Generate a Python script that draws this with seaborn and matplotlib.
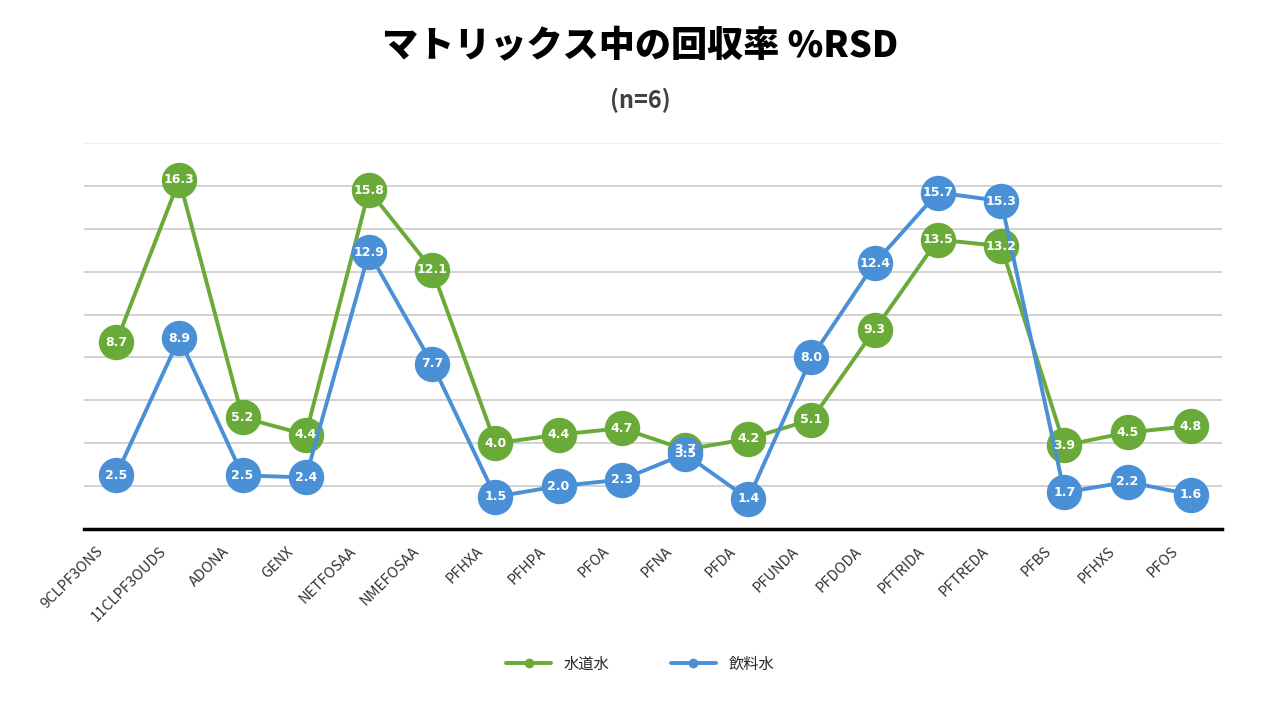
import pandas as pd
import matplotlib
matplotlib.use('Agg')
import matplotlib.pyplot as plt
import matplotlib.transforms as mtransforms
import seaborn as sns

# データ
compounds = ['9CLPF3ONS', '11CLPF3OUDS', 'ADONA', 'GENX', 'NETFOSAA', 'NMEFOSAA',
             'PFHXA', 'PFHPA', 'PFOA', 'PFNA', 'PFDA', 'PFUNDA', 'PFDODA',
             'PFTRIDA', 'PFTREDA', 'PFBS', 'PFHXS', 'PFOS']
tap_water = [8.7, 16.3, 5.2, 4.4, 15.8, 12.1, 4.0, 4.4, 4.7, 3.7, 4.2, 5.1, 9.3,
             13.5, 13.2, 3.9, 4.5, 4.8]
drinking_water = [2.5, 8.9, 2.5, 2.4, 12.9, 7.7, 1.5, 2.0, 2.3, 3.5, 1.4, 8.0, 12.4,
                  15.7, 15.3, 1.7, 2.2, 1.6]
series_names = ['水道水', '飲料水']
colors = ['#6AAA38', '#4A90D6']

sns.set_theme(style='white')
plt.rcParams['font.family'] = ['Noto Sans CJK JP', 'DejaVu Sans']

df = pd.DataFrame({
    'compound': compounds * 2,
    'x': list(range(len(compounds))) * 2,
    'rsd': tap_water + drinking_water,
    'series': [series_names[0]] * len(compounds) + [series_names[1]] * len(compounds),
})

fig = plt.figure(figsize=(12.8, 7.09), dpi=100)
ax = fig.add_axes([0.066, 0.254, 0.889, 0.544])

# 水平グリッド
for yv in range(2, 19, 2):
    ax.axhline(yv, color='#CFCFCF' if yv < 18 else '#EEEEEE', lw=1.3, zorder=0)

sns.lineplot(data=df, x='x', y='rsd', hue='series', palette=colors,
             marker='o', markersize=25.5, markeredgewidth=0, linewidth=2.8,
             ax=ax, legend=False, zorder=3)

# データラベル
for vals, col in zip([tap_water, drinking_water], colors):
    for i, v in enumerate(vals):
        ax.text(i, v, f'{v:.1f}', ha='center', va='center', color='white',
                fontsize=9, fontweight='bold', family=['DejaVu Sans'], zorder=5)

ax.set_xlim(-0.5, len(compounds) - 0.5)
ax.set_ylim(0, 18)
ax.set_yticks([])
ax.set_xticks(range(len(compounds)))
ax.set_xticklabels(compounds, rotation=45, ha='right', rotation_mode='anchor',
                   fontsize=10.5, color='#333333')
ax.tick_params(axis='x', length=0, pad=11)
offset = mtransforms.ScaledTranslation(-0.2, 0, fig.dpi_scale_trans)
for lbl in ax.get_xticklabels():
    lbl.set_transform(lbl.get_transform() + offset)
ax.set_xlabel('')
ax.set_ylabel('')
for s in ['left', 'right', 'top']:
    ax.spines[s].set_visible(False)
ax.spines['bottom'].set_color('black')
ax.spines['bottom'].set_linewidth(2.5)

# 凡例
handles = [plt.Line2D([0], [0], color=c, lw=2.8, marker='o', markersize=6) for c in colors]
fig.legend(handles, series_names, loc='center', bbox_to_anchor=(0.5, 0.063), ncol=2,
           frameon=False, fontsize=11, handlelength=3, columnspacing=4)

fig.text(0.5, 0.935, 'マトリックス中の回収率 %RSD', ha='center', va='center',
         fontsize=26, fontweight='heavy', color='black')
fig.text(0.5, 0.858, '(n=6)', ha='center', va='center',
         fontsize=17, fontweight='bold', color='#404040')

fig.savefig('out.png', dpi=100, facecolor='white')
